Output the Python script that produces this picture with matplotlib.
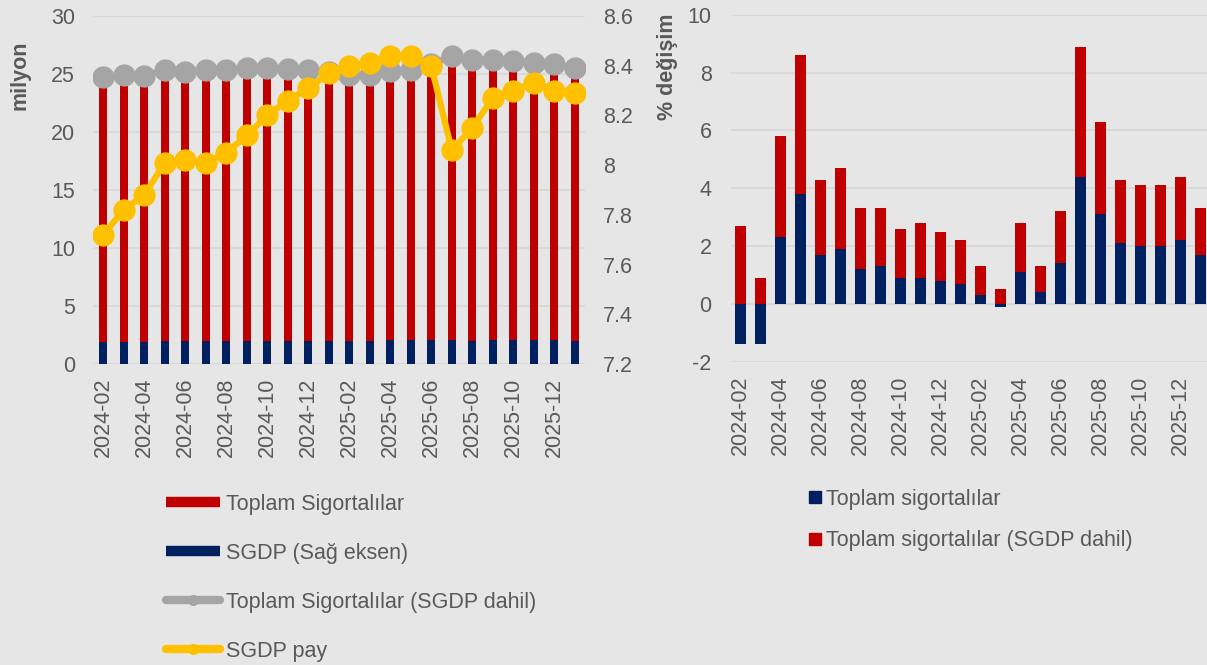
import matplotlib
matplotlib.use("Agg")
import matplotlib.pyplot as plt
from matplotlib.lines import Line2D
import numpy as np

plt.rcParams['font.family'] = ['Liberation Sans', 'DejaVu Sans']
plt.rcParams['axes.unicode_minus'] = False

# ---------------- data ----------------
months = ['2024-02', '2024-03', '2024-04', '2024-05', '2024-06', '2024-07',
          '2024-08', '2024-09', '2024-10', '2024-11', '2024-12', '2025-01',
          '2025-02', '2025-03', '2025-04', '2025-05', '2025-06', '2025-07',
          '2025-08', '2025-09', '2025-10', '2025-11', '2025-12', '2026-01']

# left panel (milyon)
sgdp = [1.87, 1.87, 1.87, 1.95, 1.95, 1.95, 1.95, 1.95, 2.01, 2.01, 2.01, 2.01,
        2.01, 2.01, 2.10, 2.10, 2.10, 2.10, 2.01, 2.10, 2.10, 2.10, 2.10, 2.01]
toplam = [22.85, 23.01, 23.00, 23.37, 23.26, 23.43, 23.38, 23.60, 23.47, 23.41,
          23.37, 23.19, 22.89, 22.91, 23.15, 23.28, 23.80, 24.42, 24.17, 24.08,
          24.00, 23.85, 23.80, 23.48]
toplam_dahil = [24.72, 24.88, 24.87, 25.32, 25.21, 25.38, 25.33, 25.55, 25.48,
                25.42, 25.38, 25.20, 24.90, 24.92, 25.25, 25.38, 25.90, 26.52,
                26.18, 26.18, 26.10, 25.95, 25.90, 25.49]
sgdp_pay = [7.72, 7.82, 7.88, 8.01, 8.02, 8.01, 8.05, 8.12, 8.20, 8.26, 8.31,
            8.37, 8.40, 8.41, 8.44, 8.44, 8.40, 8.06, 8.15, 8.27, 8.30, 8.33,
            8.30, 8.29]

# right panel (% değişim)
deg_toplam = [-1.4, -1.4, 2.3, 3.8, 1.7, 1.9, 1.2, 1.3, 0.9, 0.9, 0.8, 0.7,
              0.3, -0.1, 1.1, 0.4, 1.4, 4.4, 3.1, 2.1, 2.0, 2.0, 2.2, 1.7]
deg_dahil = [2.7, 0.9, 5.8, 8.6, 4.3, 4.7, 3.3, 3.3, 2.6, 2.8, 2.5, 2.2,
             1.3, 0.5, 2.8, 1.3, 3.2, 8.9, 6.3, 4.3, 4.1, 4.1, 4.4, 3.3]

left_ticks = [0, 5, 10, 15, 20, 25, 30]
right_ticks = [7.2, 7.4, 7.6, 7.8, 8.0, 8.2, 8.4, 8.6]
right_tick_labels = ['7.2', '7.4', '7.6', '7.8', '8', '8.2', '8.4', '8.6']
pct_ticks = [-2, 0, 2, 4, 6, 8, 10]

# ---------------- style ----------------
RED = '#C00000'
NAVY = '#002060'
GREY = '#A5A5A5'
YELLOW = '#FFC000'
TXT = '#595959'
BG = '#E7E6E7'
GRID = '#D9D9D9'
FS = 15.5

W, H = 1207, 665
fig = plt.figure(figsize=(W / 100, H / 100), dpi=100, facecolor=BG)

x = np.arange(len(months))

# ---------------- left panel ----------------
ax = fig.add_axes([93 / W, 1 - 364 / H, 492 / W, 348 / H], facecolor=BG)
ax.bar(x, sgdp, width=0.4, color=NAVY, zorder=2)
ax.bar(x, toplam, width=0.4, bottom=sgdp, color=RED, zorder=2)
ax.plot(x, toplam_dahil, color=GREY, lw=4.5, marker='o', markersize=15,
        zorder=3)
ax.set_xlim(-0.5, len(months) - 0.5)
ax.set_ylim(0, 30)
ax.set_yticks(left_ticks)
ax.set_xticks(x[::2])
ax.set_xticklabels(months[::2], rotation=90)
ax.grid(axis='y', color=GRID, lw=1.5, zorder=0)
ax.set_axisbelow(True)
for s in ax.spines.values():
    s.set_visible(False)
ax.tick_params(axis='y', length=0, pad=13, labelsize=FS, labelcolor=TXT)
ax.tick_params(axis='x', length=0, pad=10, labelsize=FS, labelcolor=TXT)
ax.set_ylabel('milyon', fontsize=FS, fontweight='bold', color=TXT,
              ha='center', va='center')
ax.yaxis.set_label_coords(-0.148, 0.83)

ax2 = ax.twinx()
ax2.plot(x, sgdp_pay, color=YELLOW, lw=4.5, marker='o', markersize=15,
         zorder=4)
ax2.set_ylim(7.2, 8.6)
ax2.set_yticks(right_ticks)
ax2.set_yticklabels(right_tick_labels)
for s in ax2.spines.values():
    s.set_visible(False)
ax2.tick_params(axis='y', length=0, pad=13, labelsize=FS, labelcolor=TXT)

h1 = [Line2D([0], [0], color=RED, lw=7.5, solid_capstyle='butt'),
      Line2D([0], [0], color=NAVY, lw=7.5, solid_capstyle='butt'),
      Line2D([0], [0], color=GREY, lw=6, marker='o', markersize=7,
             solid_capstyle='round'),
      Line2D([0], [0], color=YELLOW, lw=6, marker='o', markersize=7,
             solid_capstyle='round')]
l1 = ['Toplam Sigortalılar', 'SGDP (Sağ eksen)',
      'Toplam Sigortalılar (SGDP dahil)', 'SGDP pay']
leg1 = fig.legend(h1, l1, loc='upper left',
                  bbox_to_anchor=(166 / W, 1 - 494 / H),
                  frameon=False, fontsize=FS, labelcolor=TXT,
                  handlelength=2.5, handletextpad=0.3, labelspacing=1.3,
                  borderaxespad=0, borderpad=0)

# ---------------- right panel ----------------
bx = fig.add_axes([731 / W, 1 - 361.7 / H, 476 / W, 347 / H], facecolor=BG)
bx.bar(x, deg_dahil, width=0.52, color=RED, zorder=2)
bx.bar(x, deg_toplam, width=0.52, color=NAVY, zorder=3)
bx.set_xlim(-0.475, len(months) - 0.68)
bx.set_ylim(-2, 10)
bx.set_yticks(pct_ticks)
bx.set_xticks(x[::2])
bx.set_xticklabels(months[::2], rotation=90)
bx.grid(axis='y', color=GRID, lw=1.5, zorder=0)
bx.set_axisbelow(True)
for s in bx.spines.values():
    s.set_visible(False)
bx.tick_params(axis='y', length=0, pad=14, labelsize=FS, labelcolor=TXT)
bx.tick_params(axis='x', length=0, pad=10, labelsize=FS, labelcolor=TXT)
bx.set_ylabel('% değişim', fontsize=FS, fontweight='bold', color=TXT,
              ha='center', va='center')
bx.yaxis.set_label_coords(-0.134, 0.849)

h2 = [Line2D([0], [0], color=NAVY, lw=0, marker='s', markersize=8),
      Line2D([0], [0], color=RED, lw=0, marker='s', markersize=8)]
l2 = ['Toplam sigortalılar', 'Toplam sigortalılar (SGDP dahil)']
leg2 = fig.legend(h2, l2, loc='upper left',
                  bbox_to_anchor=(806 / W, 1 - 489 / H),
                  frameon=False, fontsize=FS, labelcolor=TXT,
                  handlelength=0.8, handletextpad=0.15, labelspacing=0.95,
                  borderaxespad=0, borderpad=0)

fig.savefig('out.png', dpi=100, facecolor=BG)
